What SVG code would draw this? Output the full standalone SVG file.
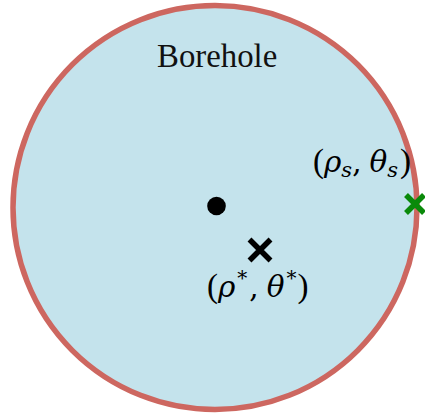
<svg xmlns="http://www.w3.org/2000/svg" width="425" height="415" viewBox="0 0 425 415">
<style>
.math{font-family:"DejaVu Serif",serif;font-size:29.5px;fill:#000}
.par{font-family:"Liberation Serif",serif;font-size:33px}
.it{font-style:italic}
.sub{font-size:21px}
</style>
<rect width="425" height="415" fill="#fff"/>
<g id="borehole">
<circle cx="215" cy="207.5" r="202" fill="#c4e3ec" stroke="#cd6760" stroke-width="5.5"/>
<text x="157" y="67" font-family="Liberation Serif, serif" font-size="32.8" fill="#111">Borehole</text>
</g>
<g id="center">
<circle cx="216.5" cy="206" r="9.3" fill="#000"/>
</g>
<g id="point-star">
<path d="M249.5,239.5 L270.5,260.5 M270.5,239.5 L249.5,260.5" stroke="#000" stroke-width="5.5"/>
<text class="math" x="207" y="297"><tspan class="par">(</tspan><tspan class="it">ρ</tspan><tspan font-size="20" dx="2" dy="-12">*</tspan><tspan dx="2" dy="12">,</tspan><tspan class="it" dx="8">θ</tspan><tspan font-size="20" dx="2" dy="-12">*</tspan><tspan class="par" dx="1" dy="12">)</tspan></text>
</g>
<g id="point-s">
<path d="M406,195 L424,213 M424,195 L406,213" stroke="#0a8a0a" stroke-width="5.5"/>
<text class="math" x="313" y="172"><tspan class="par">(</tspan><tspan class="it">ρ</tspan><tspan class="it sub" dy="5">s</tspan><tspan dy="-5">,</tspan><tspan class="it" dx="8">θ</tspan><tspan class="it sub" dy="5">s</tspan><tspan class="par" dx="2" dy="-5">)</tspan></text>
</g>
</svg>
